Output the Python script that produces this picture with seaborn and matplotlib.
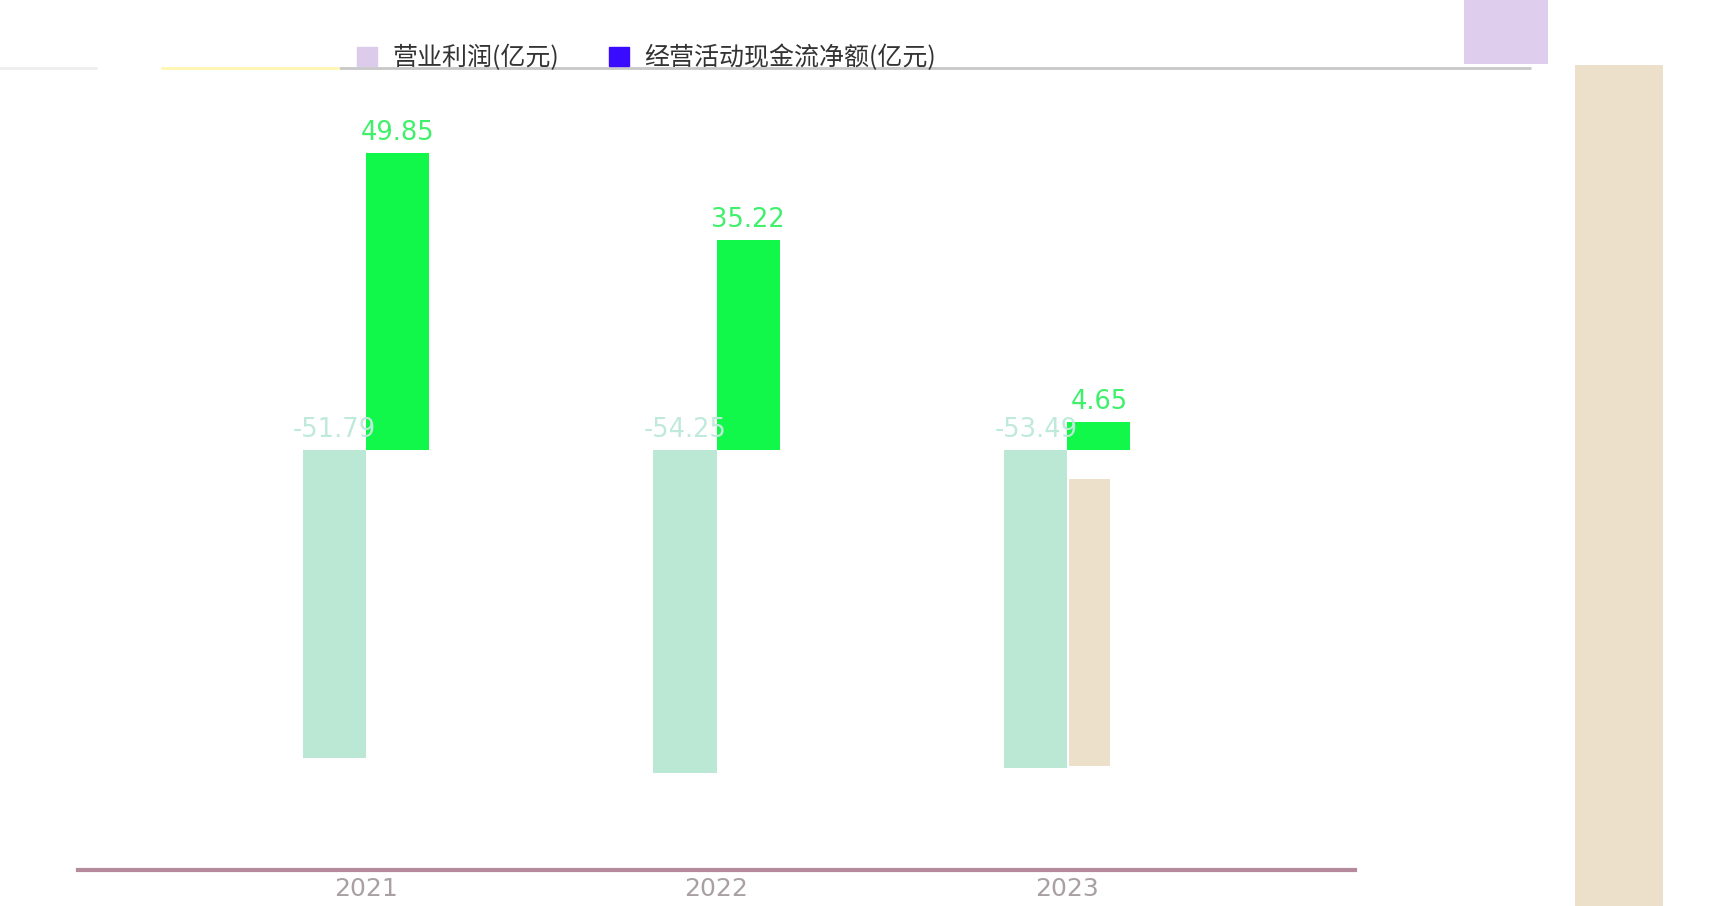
import matplotlib
matplotlib.use("Agg")
import matplotlib.pyplot as plt
import matplotlib.patches as mpatches
from matplotlib.lines import Line2D
import seaborn as sns
import pandas as pd

years = ["2021", "2022", "2023"]
series_names = ["营业利润(亿元)", "经营活动现金流净额(亿元)"]
operating_profit = [-51.79, -54.25, -53.49]
operating_cashflow = [49.85, 35.22, 4.65]

bar_colors = ["#bae8d5", "#11f74a"]
legend_colors = ["#dccbeb", "#3a0cff"]
label_colors = ["#bfeadb", "#3ef06a"]

df = pd.DataFrame({
    "year": years * 2,
    "series": [series_names[0]] * 3 + [series_names[1]] * 3,
    "value": operating_profit + operating_cashflow,
})

sns.set_theme(style="white")
plt.rcParams["font.family"] = ["Noto Sans CJK SC", "DejaVu Sans"]

fig = plt.figure(figsize=(17.2, 9.06), dpi=100)
ax = fig.add_axes([78 / 1720, 36 / 906, (1355 - 78) / 1720, (870 - 68) / 906])
ax.set_facecolor("none")

sns.barplot(data=df, x="year", y="value", hue="series", hue_order=series_names,
            palette=bar_colors, width=0.36, ax=ax, legend=False,
            saturation=1, linewidth=0)

ax.set_xlim(-0.82, 2.82)
ax.set_ylim(-70.6, 64.2)

for spine in ["left", "right", "top"]:
    ax.spines[spine].set_visible(False)
ax.spines["bottom"].set_color("#b58a9c")
ax.spines["bottom"].set_linewidth(3)
ax.set_yticks([])
ax.set_xlabel("")
ax.set_ylabel("")
ax.tick_params(axis="x", length=0, pad=5, labelsize=18, labelcolor="#a8a0a4")
for t in ax.get_xticklabels():
    t.set_fontfamily(["DejaVu Sans"])

for ci, container in enumerate(ax.containers):
    for patch in container.patches:
        h = patch.get_height()
        xc = patch.get_x() + patch.get_width() / 2
        ytop = max(h, 0)
        ax.annotate(f"{h:.2f}", (xc, ytop), xytext=(0, 5), textcoords="offset points",
                    ha="center", va="bottom", fontsize=18.5, color=label_colors[ci],
                    family=["DejaVu Sans"])

handles = [mpatches.Patch(color=c, label=n) for c, n in zip(legend_colors, series_names)]
fig.legend(handles=handles, loc="center", bbox_to_anchor=(0.376, 1 - 58 / 906),
           ncol=2, frameon=False, fontsize=18, handlelength=0.8, handleheight=0.8,
           columnspacing=2.0, handletextpad=0.6, labelcolor="#333333")

# faint top rules and decorative artefacts seen in the reference
fig.add_artist(Line2D([340 / 1720, 1530 / 1720], [1 - 68 / 906, 1 - 68 / 906],
                      color="#c8c8c8", linewidth=2, transform=fig.transFigure))
fig.add_artist(Line2D([162 / 1720, 338 / 1720], [1 - 68 / 906, 1 - 68 / 906],
                      color="#fff6b0", linewidth=2, transform=fig.transFigure))
fig.add_artist(Line2D([0, 96 / 1720], [1 - 68 / 906, 1 - 68 / 906],
                      color="#eeeeee", linewidth=2, transform=fig.transFigure))
fig.add_artist(mpatches.Rectangle((1575 / 1720, 0), (1663 - 1575) / 1720, 1 - 65 / 906,
                                  transform=fig.transFigure, color="#ede0cb", linewidth=0))
fig.add_artist(mpatches.Rectangle((1464 / 1720, 1 - 64 / 906), (1548 - 1464) / 1720, 64 / 906,
                                  transform=fig.transFigure, color="#dfcdee", linewidth=0))
fig.add_artist(mpatches.Rectangle((1069 / 1720, 1 - 766 / 906), (1110 - 1069) / 1720, (766 - 479) / 906,
                                  transform=fig.transFigure, color="#ede0cb", linewidth=0, zorder=1))

fig.savefig("out.png", dpi=100)
